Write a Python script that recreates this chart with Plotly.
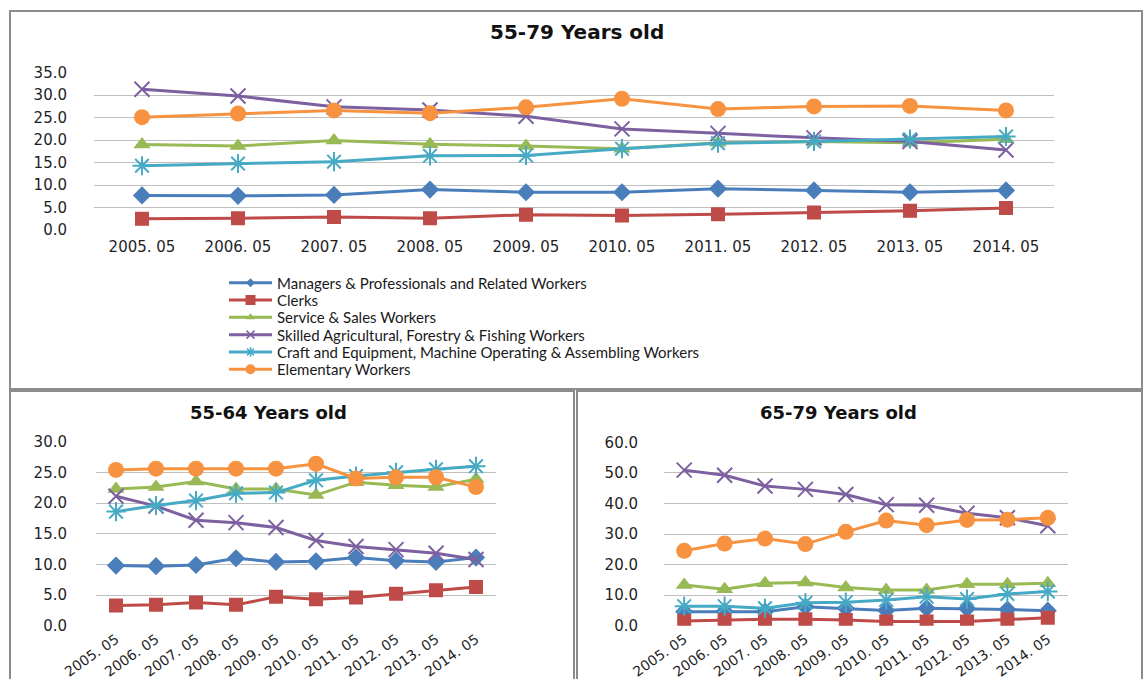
import plotly.graph_objects as go

# Survey months (x categories shared by all three panels)
months = ["2005. 05", "2006. 05", "2007. 05", "2008. 05", "2009. 05",
          "2010. 05", "2011. 05", "2012. 05", "2013. 05", "2014. 05"]

occupations = [
    "Managers & Professionals and Related Workers",
    "Clerks",
    "Service & Sales Workers",
    "Skilled Agricultural, Forestry & Fishing Workers",
    "Craft and Equipment, Machine Operating & Assembling Workers",
    "Elementary Workers",
]

# Share (%) by occupation, aged 55-79
age_55_79_managers = [7.7, 7.6, 7.8, 9.0, 8.4, 8.4, 9.2, 8.8, 8.4, 8.8]
age_55_79_clerks = [2.5, 2.6, 2.9, 2.6, 3.4, 3.2, 3.5, 3.9, 4.3, 4.9]
age_55_79_service = [19.0, 18.7, 19.9, 19.1, 18.7, 18.1, 19.4, 19.7, 19.4, 20.2]
age_55_79_agri = [31.3, 29.8, 27.4, 26.7, 25.3, 22.5, 21.5, 20.5, 19.7, 17.8]
age_55_79_craft = [14.3, 14.8, 15.2, 16.5, 16.6, 18.1, 19.3, 19.7, 20.2, 20.8]
age_55_79_elementary = [25.1, 25.9, 26.6, 26.0, 27.3, 29.2, 26.9, 27.5, 27.6, 26.6]

# Share (%) by occupation, aged 55-64
age_55_64_managers = [9.8, 9.7, 9.9, 11.0, 10.4, 10.5, 11.1, 10.6, 10.4, 11.1]
age_55_64_clerks = [3.3, 3.4, 3.8, 3.4, 4.7, 4.3, 4.6, 5.2, 5.8, 6.3]
age_55_64_service = [22.3, 22.6, 23.5, 22.3, 22.3, 21.3, 23.4, 22.9, 22.6, 23.9]
age_55_64_agri = [21.1, 19.5, 17.2, 16.8, 16.0, 13.9, 12.9, 12.4, 11.8, 10.8]
age_55_64_craft = [18.6, 19.6, 20.4, 21.6, 21.7, 23.7, 24.4, 25.0, 25.5, 26.0]
age_55_64_elementary = [25.4, 25.6, 25.6, 25.6, 25.6, 26.4, 24.0, 24.2, 24.2, 22.6]

# Share (%) by occupation, aged 65-79
age_65_79_managers = [4.6, 4.7, 4.6, 6.2, 5.7, 5.0, 5.7, 5.6, 5.3, 4.9]
age_65_79_clerks = [1.5, 1.9, 2.1, 2.1, 1.9, 1.4, 1.4, 1.4, 2.0, 2.6]
age_65_79_service = [13.3, 11.9, 13.9, 14.1, 12.5, 11.7, 11.7, 13.6, 13.6, 13.9]
age_65_79_agri = [50.9, 49.2, 45.7, 44.6, 42.9, 39.6, 39.4, 36.8, 35.3, 32.7]
age_65_79_craft = [6.4, 6.4, 5.7, 7.5, 7.7, 8.4, 9.5, 8.7, 10.4, 11.2]
age_65_79_elementary = [24.5, 26.9, 28.5, 26.7, 30.7, 34.4, 32.9, 34.6, 34.7, 35.3]

panels = [
    ("x", "y", [age_55_79_managers, age_55_79_clerks, age_55_79_service,
                age_55_79_agri, age_55_79_craft, age_55_79_elementary]),
    ("x2", "y2", [age_55_64_managers, age_55_64_clerks, age_55_64_service,
                  age_55_64_agri, age_55_64_craft, age_55_64_elementary]),
    ("x3", "y3", [age_65_79_managers, age_65_79_clerks, age_65_79_service,
                  age_65_79_agri, age_65_79_craft, age_65_79_elementary]),
]

colors = ["#4A7EBB", "#BE4B48", "#98B954", "#7D60A0", "#46AAC5", "#F69240"]
symbols = ["diamond", "square", "triangle-up", "x-thin-open", "asterisk-open", "circle"]
sizes = [14, 14, 15, 15, 16, 16]
legend_sizes = [7, 10, 8, 8, 8, 10]

W, H = 1144, 679


def px(x):
    return x / W


def py(y):
    return 1 - y / H


fig = go.Figure()

for xa, ya, series in panels:
    for i, vals in enumerate(series):
        open_sym = symbols[i].endswith("open")
        fig.add_trace(go.Scatter(
            x=months, y=vals, xaxis=xa, yaxis=ya,
            mode="lines+markers", showlegend=False, hoverinfo="skip",
            line=dict(color=colors[i], width=3),
            marker=dict(symbol=symbols[i], size=sizes[i], color=colors[i],
                        line=dict(color=colors[i], width=2 if open_sym else 0)),
        ))

# One single-entry legend per occupation, stacked as rows in the top panel
legend_names = ["legend"] + [f"legend{k}" for k in range(2, 7)]
legend_layout = {}
for i, name in enumerate(occupations):
    open_sym = symbols[i].endswith("open")
    fig.add_trace(go.Scatter(
        x=[None], y=[None], name=name, mode="lines+markers",
        legend=legend_names[i], showlegend=True,
        line=dict(color=colors[i], width=3),
        marker=dict(symbol=symbols[i], size=legend_sizes[i], color=colors[i],
                    line=dict(color=colors[i], width=1.5 if open_sym else 0)),
    ))
    legend_layout[legend_names[i]] = dict(
        x=px(224), y=py(283 + 17.3 * i), xanchor="left", yanchor="middle",
        font=dict(family="Lato", size=15, color="#1a1a1a"),
        itemwidth=43, bgcolor="rgba(0,0,0,0)", borderwidth=0,
    )

tick_font = dict(family="DejaVu Sans", size=15, color="#1f1f1f")
grid = "#BFBFBF"


def xaxis(domain, anchor, angle, size, standoff):
    return dict(domain=domain, anchor=anchor, type="category",
                categoryorder="array", categoryarray=months,
                range=[-0.5, 9.5], showgrid=False, zeroline=False,
                showline=False, ticks="", tickangle=angle, automargin=False,
                tickfont=dict(family="DejaVu Sans", size=size, color="#1f1f1f"),
                ticklabelstandoff=standoff, fixedrange=True)


def yaxis(domain, anchor, top, step, standoff):
    return dict(domain=domain, anchor=anchor, range=[0, top], dtick=step,
                tickformat=".1f", showgrid=True, gridcolor=grid, gridwidth=1,
                zeroline=False, showline=False, ticks="", tickfont=tick_font,
                automargin=False, ticklabelstandoff=standoff, fixedrange=True)


fig.update_layout(
    width=W, height=H,
    margin=dict(l=0, r=0, t=0, b=0, autoexpand=False),
    paper_bgcolor="white", plot_bgcolor="white",
    xaxis=xaxis([px(94), px(1054)], "y", 0, 15, 6),
    yaxis=yaxis([py(230), py(72.7)], "x", 35, 5, 26),
    xaxis2=xaxis([px(96), px(496)], "y2", -35, 14, 2),
    yaxis2=yaxis([py(625.7), py(441.7)], "x2", 30, 5, 28),
    xaxis3=xaxis([px(664), px(1068)], "y3", -35, 14, 2),
    yaxis3=yaxis([py(625.7), py(442.3)], "x3", 60, 10, 25),
    showlegend=True,
    **legend_layout,
)

for text, cx, cy, size in [("55-79 Years old", 577, 32, 20),
                           ("55-64 Years old", 268, 413, 18),
                           ("65-79 Years old", 838, 413, 18)]:
    fig.add_annotation(text=f"<b>{text}</b>", x=px(cx), y=py(cy),
                       xref="paper", yref="paper", showarrow=False,
                       xanchor="center", yanchor="middle",
                       font=dict(family="DejaVu Sans", size=size, color="#111111"))

# Panel frames
border = dict(color="#8C8C8C", width=2)
for x0, y0, x1, y1 in [(10, 11, 1142, 389), (10, 391, 574, 690), (577, 391, 1142, 690)]:
    fig.add_shape(type="rect", xref="paper", yref="paper",
                  x0=px(x0), y0=py(y1), x1=px(x1), y1=py(y0),
                  line=border, fillcolor="rgba(0,0,0,0)", layer="above")

fig.write_html("out.html")
